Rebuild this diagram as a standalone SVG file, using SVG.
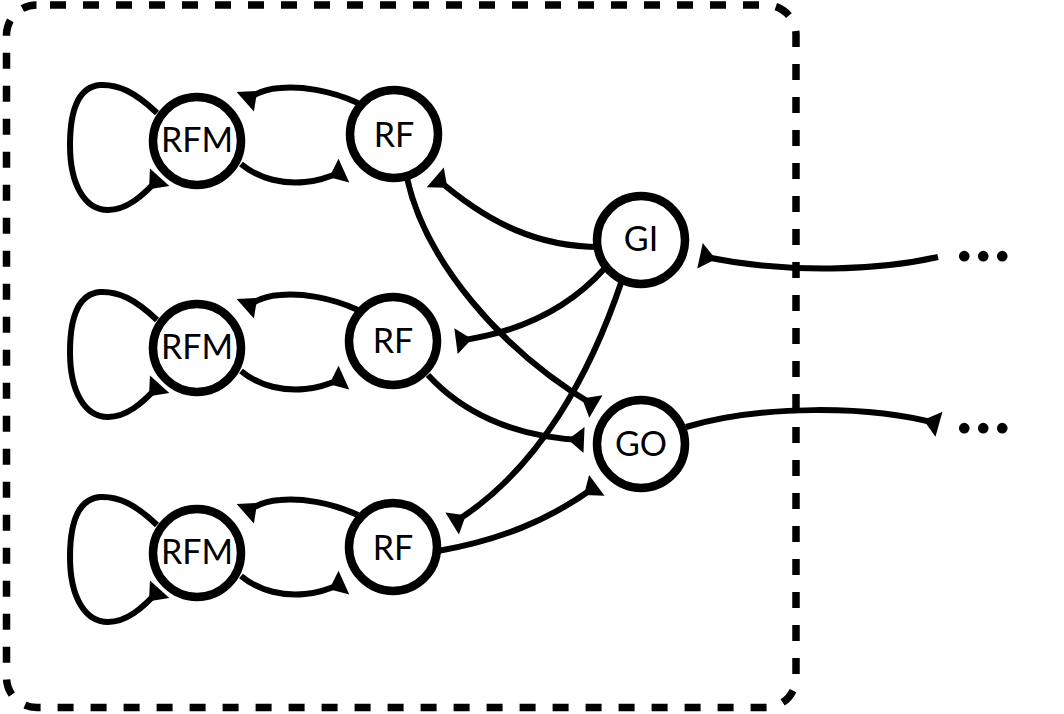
<svg xmlns="http://www.w3.org/2000/svg" width="1064" height="714" viewBox="0 0 1064 714">
  <style>
    .frame { fill: none; stroke: #000; stroke-width: 7.5; stroke-dasharray: 16 17; stroke-dashoffset: 19.5; }
    .node circle { fill: #fff; stroke: #000; stroke-width: 8.5; }
    .node text { font-family: Lato, "Open Sans", "Liberation Sans", sans-serif; font-size: 34px; fill: #000; text-anchor: middle; }
    .edge { fill: none; stroke: #000; stroke-width: 6; marker-end: url(#tee); }
    .dots { font-family: "Liberation Serif", "Times New Roman", serif; font-weight: bold; font-size: 66px; letter-spacing: 2.5px; fill: #000; }
  </style>
  <defs>
    <!-- flared synapse head: wide base at the line end, tapering back along the line -->
    <marker id="tee" markerUnits="userSpaceOnUse" orient="auto" markerWidth="34" markerHeight="34" viewBox="-17 -17 34 34" refX="0" refY="0" overflow="visible">
      <path d="M1,-13 L1,13 L-15,0 Z" fill="#000"/>
    </marker>
  </defs>

  <rect class="frame" x="6.5" y="5" width="789.5" height="702.5" rx="30" ry="30"/>

  <g id="connectors">
    <!-- RFM / RF loops, one set per row -->
    <g id="row1-edges">
      <path class="edge" d="M157,113 C135,92 118,84 100,85 C78,87 70,110 70,145 C70,185 85,210 108,210 C126,210 142,197 159,178"/>
      <path class="edge" d="M358,103 C330,90 300,86 280,88 C265,89 255,93 246,101"/>
      <path class="edge" d="M241,164 C260,180 285,184 305,182 C320,181 332,176 343,171"/>
    </g>
    <g id="row2-edges" transform="translate(0,207)">
      <path class="edge" d="M157,113 C135,92 118,84 100,85 C78,87 70,110 70,145 C70,185 85,210 108,210 C126,210 142,197 159,178"/>
      <path class="edge" d="M358,103 C330,90 300,86 280,88 C265,89 255,93 246,101"/>
      <path class="edge" d="M241,164 C260,180 285,184 305,182 C320,181 332,176 343,171"/>
    </g>
    <g id="row3-edges" transform="translate(0,412)">
      <path class="edge" d="M157,113 C135,92 118,84 100,85 C78,87 70,110 70,145 C70,185 85,210 108,210 C126,210 142,197 159,178"/>
      <path class="edge" d="M358,103 C330,90 300,86 280,88 C265,89 255,93 246,101"/>
      <path class="edge" d="M241,164 C260,180 285,184 305,182 C320,181 332,176 343,171"/>
    </g>
    <!-- GI feedback onto the RF units -->
    <path class="edge" d="M600,247 C540,247 490,225 436,178"/>
    <path class="edge" d="M605,268 C572,305 525,332 457,341"/>
    <path class="edge" d="M622,280 C592,370 540,470 453,523"/>
    <!-- RF units into GO -->
    <path class="edge" d="M407,178 C425,260 500,350 595,406"/>
    <path class="edge" d="M428,375 C460,410 510,437 583,440"/>
    <path class="edge" d="M438,551 C500,540 550,520 596,486"/>
    <!-- external input and output -->
    <path class="edge" d="M938,257 C880,270 790,275 701,256"/>
    <path class="edge" d="M686,427 C760,405 870,405 938,424"/>
  </g>

  <g id="rfm1" class="node"><circle cx="197" cy="141" r="44"/><text x="197" y="152">RFM</text></g>
  <g id="rf1" class="node"><circle cx="394" cy="134" r="44"/><text x="394" y="147">RF</text></g>
  <g id="rfm2" class="node"><circle cx="197" cy="348" r="44"/><text x="197" y="359">RFM</text></g>
  <g id="rf2" class="node"><circle cx="393" cy="341" r="44"/><text x="393" y="353">RF</text></g>
  <g id="rfm3" class="node"><circle cx="197" cy="553" r="44"/><text x="197" y="564">RFM</text></g>
  <g id="rf3" class="node"><circle cx="393" cy="547" r="44"/><text x="393" y="560">RF</text></g>
  <g id="gi" class="node"><circle cx="641" cy="240" r="44"/><text x="641" y="251">GI</text></g>
  <g id="go" class="node"><circle cx="641" cy="444" r="44"/><text x="641" y="456">GO</text></g>

  <g id="ellipses">
    <text class="dots" x="956" y="261">...</text>
    <text class="dots" x="956" y="433">...</text>
  </g>
</svg>
